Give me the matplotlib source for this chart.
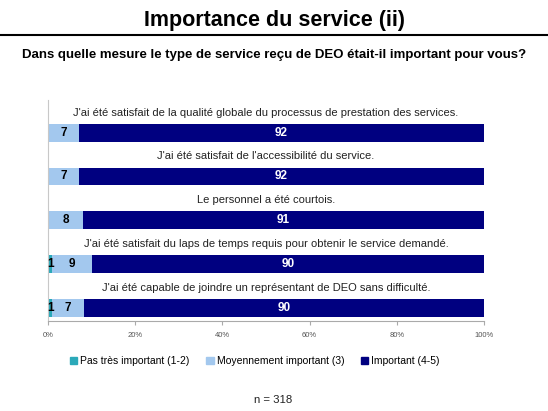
import matplotlib.pyplot as plt
import numpy as np
from matplotlib.patches import Patch
from matplotlib.lines import Line2D

statements = [
    "J'ai été satisfait de la qualité globale du processus de prestation des services.",
    "J'ai été satisfait de l'accessibilité du service.",
    "Le personnel a été courtois.",
    "J'ai été satisfait du laps de temps requis pour obtenir le service demandé.",
    "J'ai été capable de joindre un représentant de DEO sans difficulté.",
]
pas_important = [0, 0, 0, 1, 1]
moyen_important = [7, 7, 8, 9, 7]
important = [92, 92, 91, 90, 90]
series_names = ["Pas très important (1-2)", "Moyennement important (3)", "Important (4-5)"]
tick_labels = ["0%", "20%", "40%", "60%", "80%", "100%"]

colors = ["#2BA9B9", "#A3C8EE", "#000080"]
text_colors = ["black", "black", "white"]
arial = ["Liberation Sans", "DejaVu Sans"]

fig = plt.figure(figsize=(5.48, 4.11), dpi=100)
fig.text(0.5, 0.95, "Importance du service (ii)", ha="center", va="center",
         fontsize=15.5, fontweight="bold", family=arial)
fig.add_artist(Line2D([0, 1], [0.915, 0.915], color="black", lw=1.5))
fig.text(0.5, 0.866, "Dans quelle mesure le type de service reçu de DEO était-il important pour vous?",
         ha="center", va="center", fontsize=9.5, fontweight="bold", family=arial)

ax = fig.add_axes([0.0876, 0.219, 0.7956, 0.538])

data = np.array([pas_important, moyen_important, important], dtype=float)
pct = data / data.sum(axis=0) * 100  # 100% stacked
y = np.arange(len(statements))
left = np.zeros(len(statements))
for i in range(3):
    ax.barh(y, pct[i], left=left, height=0.41, color=colors[i], label=series_names[i])
    for j in range(len(statements)):
        if data[i, j] > 0:
            ax.text(left[j] + pct[i, j] / 2, y[j], "%d" % data[i, j], ha="center", va="center",
                    fontsize=8.5, fontweight="bold", color=text_colors[i], family=arial)
    left += pct[i]

for j, s in enumerate(statements):
    ax.text(50, y[j] - 0.46, s, ha="center", va="center", fontsize=8, color="#222222", family=arial)

ax.set_xlim(0, 100)
ax.set_ylim(4.3, -0.75)
ax.set_xticks(np.arange(0, 101, 20))
ax.set_xticklabels(tick_labels, fontsize=5.5, color="#555555", family=arial)
ax.set_yticks([])
ax.tick_params(axis="x", length=3, color="#aaaaaa", pad=5)
for side in ["top", "right"]:
    ax.spines[side].set_visible(False)
ax.spines["left"].set_color("#c8c8c8")
ax.spines["bottom"].set_color("#aaaaaa")

handles = [Patch(color=c, label=n) for c, n in zip(colors, series_names)]
fig.legend(handles=handles, loc="center", bbox_to_anchor=(0.465, 0.121), ncol=3, frameon=False,
           prop={"family": arial, "size": 7.5}, handlelength=0.7, handleheight=0.7,
           handletextpad=0.3, columnspacing=1.6)

fig.text(0.498, 0.027, "n = 318", ha="center", va="center", fontsize=8.2, color="#222222", family=arial)

fig.savefig("out.png", dpi=100)
